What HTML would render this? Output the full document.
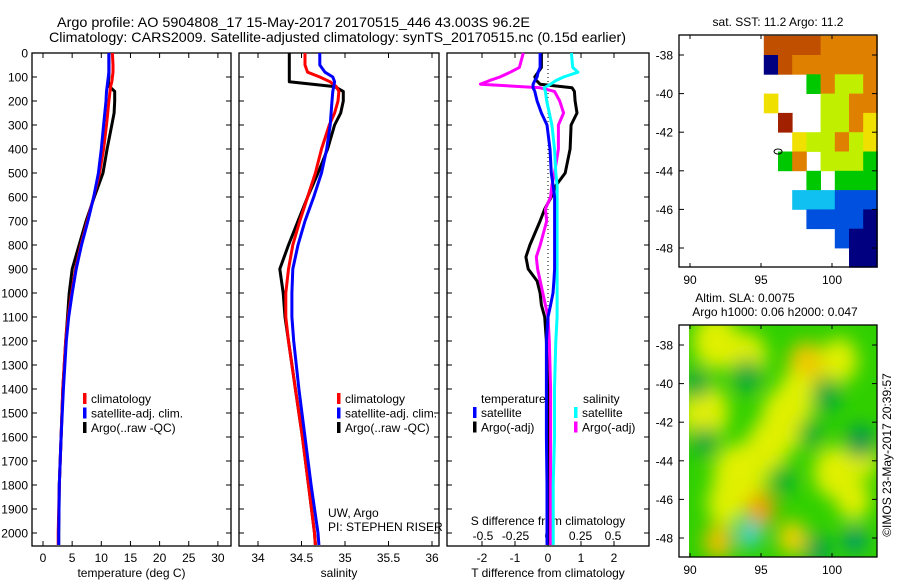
<!DOCTYPE html>
<html><head><meta charset="utf-8">
<style>
html,body{margin:0;padding:0;background:#fff;}
svg{display:block;font-family:"Liberation Sans",sans-serif;}
</style></head>
<body>
<svg id="fig" width="900" height="580" xmlns="http://www.w3.org/2000/svg">
<defs>
<filter id="blur" x="-50%" y="-50%" width="200%" height="200%"><feGaussianBlur stdDeviation="9"/></filter>
<clipPath id="slaclip"><rect x="689" y="325" width="188" height="232"/></clipPath>
</defs>
<text x="57" y="27" font-size="14" textLength="473" lengthAdjust="spacingAndGlyphs">Argo profile: AO 5904808_17 15-May-2017 20170515_446 43.003S 96.2E</text>
<text x="49" y="42" font-size="14" textLength="577" lengthAdjust="spacingAndGlyphs">Climatology: CARS2009. Satellite-adjusted climatology: synTS_20170515.nc (0.15d earlier)</text>
<g id="plots"></g>
</svg>
<script>
// ---------- data ----------
const depths = [0,50,80,100,120,140,160,200,250,300,400,500,600,700,800,900,1000,1100,1200,1400,1600,1800,2000,2050];
const tempClim = [11.9,12.0,12.0,11.9,11.8,11.6,11.5,11.3,11.1,10.9,10.4,9.7,8.7,7.6,6.5,5.6,4.9,4.3,3.9,3.4,3.1,2.8,2.6,2.6];
const tempSat  = [11.3,11.3,11.3,11.2,11.1,11.0,10.9,10.8,10.6,10.4,10.0,9.5,8.7,7.7,6.6,5.7,5.0,4.4,4.0,3.5,3.1,2.8,2.7,2.7];
const tempArgo = [11.3,11.3,11.3,11.3,11.2,11.4,12.3,12.3,12.2,11.8,11.0,10.3,8.8,7.4,6.2,5.0,4.5,4.2,3.9,3.4,3.1,2.8,2.7,2.7];
const salClim = [34.54,34.54,34.57,34.71,34.83,34.9,34.93,34.92,34.88,34.82,34.73,34.66,34.57,34.48,34.40,34.35,34.32,34.32,34.35,34.43,34.51,34.58,34.65,34.66];
const salSat  = [34.71,34.71,34.77,34.86,34.88,34.87,34.86,34.85,34.84,34.83,34.79,34.73,34.64,34.54,34.46,34.40,34.39,34.39,34.41,34.47,34.54,34.61,34.69,34.70];
const salArgo = [34.36,34.36,34.36,34.36,34.36,34.88,34.98,34.98,34.95,34.88,34.80,34.69,34.57,34.46,34.35,34.25,34.29,34.31,34.35,34.43,34.51,34.58,34.65,34.66];
const diffDepths = [0,60,80,100,115,130,145,160,200,250,300,400,500,550,600,650,700,800,850,900,950,1000,1050,1100,1200,1400,1600,1800,2050];
const tDiffSat  = [-0.24,-0.24,-0.3,-0.33,-0.4,-0.45,-0.45,-0.4,-0.33,-0.2,-0.03,0.06,0.1,0.15,0.2,0.2,0.2,0.2,0.2,0.2,0.18,0.15,0.08,0.0,-0.05,-0.05,-0.05,-0.03,-0.03];
const tDiffArgo = [-0.2,-0.2,-0.3,-0.4,-0.35,-0.24,0.73,0.8,0.82,0.88,0.7,0.67,0.52,0.25,0.1,-0.1,-0.24,-0.55,-0.67,-0.6,-0.33,-0.24,-0.2,-0.1,-0.05,0.0,0.0,0.0,0.0];
const sDiffSat  = [0.18,0.19,0.23,0.12,0.06,0.02,-0.03,-0.02,-0.01,0.01,0.03,0.05,0.06,0.07,0.07,0.07,0.07,0.07,0.07,0.07,0.07,0.07,0.07,0.07,0.06,0.05,0.05,0.04,0.04];
const sDiffArgo = [-0.19,-0.22,-0.29,-0.37,-0.45,-0.52,-0.06,0.05,0.09,0.12,0.08,0.08,0.05,0.03,0.02,-0.02,-0.01,-0.06,-0.09,-0.08,-0.06,-0.04,-0.02,0.0,0.01,0.02,0.02,0.02,0.02];
const depthTicks = [0,100,200,300,400,500,600,700,800,900,1000,1100,1200,1300,1400,1500,1600,1700,1800,1900,2000];
const tempTicks = [0,5,10,15,20,25,30];
const salTicks = [34,34.5,35,35.5,36];
const tdTicks = [-2,-1,0,1,2];
const sdTicks = [-0.5,-0.25,0,0.25,0.5];
const latTicks = [-38,-40,-42,-44,-46,-48];
const lonTicks = [90,95,100];
// SST grid: rows lat -37..-49 (1 deg), cols lon 89.2.. (1 deg)
const sstRows = ["......rrrroooo","......nroooooo",".........gollo","......y...lloo",".......R..lloy","........ylloly",".......go.lllg",".........g.ggg","........cccbbb",".........bbbbn","...........bnn","............nn"];
const sstColors = {n:"#000080",b:"#0050e0",c:"#10c0f0",g:"#00c800",l:"#c0f000",y:"#f0e000",o:"#e08000",r:"#c05000",R:"#a02000"};
// SLA blobs: lon, lat, radius(deg), colour
const slaLon = [91.8,94,98.2,100.5,91,96.8,93.5,95,97.2,92,100.2,102.3,95.5,97.5,92.5,101.5,90.5,94,99.6,102,91,94.2,99,101.6,96.5,98.5];
const slaLat = [-37.8,-38.6,-39,-38.8,-41.5,-41.8,-44.8,-46.5,-48,-48.2,-44.6,-44,-43.2,-40.5,-46.2,-46,-40,-39.6,-40.6,-43,-43,-47.8,-48.6,-48.1,-45,-42.6];
const slaR   = [1.6,1.4,1.3,1.3,1.7,1.8,1.9,1.0,1.0,1.0,1.5,1.0,1.5,1.3,1.3,1.2,0.9,1.0,1.0,1.0,0.9,0.8,0.9,0.8,0.9,0.9];
const slaCol = ["#e0f000","#e0f000","#f0c800","#e0f000","#e0f000","#e0f000","#e0f000","#f0a000","#f0d000","#f0c000","#e0f000","#e0f000","#e0f000","#e0f000","#e0f000","#e0f000","#00a840","#00a840","#00a840","#009850","#00a840","#40d0e0","#00a050","#009870","#00b030","#00b030"];

// ---------- helpers ----------
const NS="http://www.w3.org/2000/svg";
const G=document.getElementById('plots');
function mk(tag,attrs,parent){const e=document.createElementNS(NS,tag);for(const k in attrs)e.setAttribute(k,attrs[k]);(parent||G).appendChild(e);return e;}
function txt(s,x,y,size,anchor,parent){const t=mk('text',{x:x,y:y,'font-size':size,'text-anchor':anchor||'start'},parent);t.textContent=s;return t;}
const yD=d=>53+d*0.24;
const BOT=546;

function panel(name,x0,x1,xs,ticks,labelFmt,xlabel){
  const g=mk('g',{});
  
  
  const fr=mk('rect',{x:x0,y:53,width:x1-x0,height:BOT-53,fill:'none',stroke:'#000','stroke-width':1.3},g);
  
  
  ticks.forEach(v=>{const x=xs(v);
    mk('line',{x1:x,x2:x,y1:53,y2:58,stroke:'#000'},g);
    mk('line',{x1:x,x2:x,y1:BOT,y2:BOT-5,stroke:'#000'},g);
    if(labelFmt){const t=txt(labelFmt(v),x,562,12,'middle',g);
      
      }
  });
  depthTicks.forEach(d=>{mk('line',{x1:x0,x2:x0+5,y1:yD(d),y2:yD(d),stroke:'#000'},g);mk('line',{x1:x1,x2:x1-5,y1:yD(d),y2:yD(d),stroke:'#000'},g);});
  if(xlabel){const t=txt(xlabel,(x0+x1)/2,577,12,'middle',g);
    
    }
  return g;
}
function line(g,name,xs,vals,dep,color,w){
  const pts=vals.map((v,i)=>xs(v).toFixed(1)+','+yD(dep[i]).toFixed(1)).join(' ');
  const p=mk('polyline',{points:pts,fill:'none',stroke:color,'stroke-width':w||3,'stroke-linejoin':'round'},g);
  
  
}
function legend(g,x,y,items,prefix){
  items.forEach((it,i)=>{
    const r=mk('rect',{x:x,y:y+i*14.5-10,width:3.5,height:11,fill:it[1]},g);
    
    
    const t=txt(it[0],x+8,y+i*14.5,12,'start',g);
    
    
  });
}

// depth labels
depthTicks.forEach(d=>{const t=txt(String(d),28,yD(d)+4.5,12,'end');
  
  });

// panel 1 temperature
const xT=v=>43+v*5.83;
const g1=panel('temperature-panel',32,231,xT,tempTicks,v=>String(v),'temperature (deg C)');
line(g1,'temperature-argo-line',xT,tempArgo,depths,'#000');
line(g1,'temperature-climatology-line',xT,tempClim,depths,'#f00');
line(g1,'temperature-satellite-line',xT,tempSat,depths,'#00f');
legend(g1,83,403,[['climatology','#f00'],['satellite-adj. clim.','#00f'],['Argo(..raw -QC)','#000']],'temperature');

// panel 2 salinity
const xS=v=>258+(v-34)*87;
const g2=panel('salinity-panel',239,439,xS,salTicks,v=>String(v),'salinity');
line(g2,'salinity-argo-line',xS,salArgo,depths,'#000');
line(g2,'salinity-climatology-line',xS,salClim,depths,'#f00');
line(g2,'salinity-satellite-line',xS,salSat,depths,'#00f');
legend(g2,337,403,[['climatology','#f00'],['satellite-adj. clim.','#00f'],['Argo(..raw -QC)','#000']],'salinity');
let t=txt('UW, Argo',328,517,12,'start',g2);
t=txt('PI: STEPHEN RISER',328,531,12,'start',g2);

// panel 3 differences
const xTD=v=>548+v*33;
const xSD=v=>548+v*130;
const g3=panel('difference-panel',447,649,xTD,tdTicks,null,'T difference from climatology');
tdTicks.forEach(v=>{const tt=txt(String(v),xTD(v),562,12,'middle',g3);});
sdTicks.forEach(v=>{const tt=txt(String(v),xSD(v),540,12,'middle',g3);});
t=txt('S difference from climatology',548,525,12,'middle',g3);
const zl=mk('line',{x1:xTD(0),x2:xTD(0),y1:53,y2:BOT,stroke:'#000','stroke-dasharray':'1,3'},g3);


line(g3,'t-diff-argo-line',xTD,tDiffArgo,diffDepths,'#000');
line(g3,'s-diff-argo-line',xSD,sDiffArgo,diffDepths,'#f0f');
line(g3,'s-diff-satellite-line',xSD,sDiffSat,diffDepths,'#0ff');
line(g3,'t-diff-satellite-line',xTD,tDiffSat,diffDepths,'#00f');
t=txt('temperature',481,403,12,'start',g3);
t=txt('salinity',583,403,12,'start',g3);
legend(g3,473,417,[['satellite','#00f'],['Argo(-adj)','#000']],'t-diff');
legend(g3,574,417,[['satellite','#0ff'],['Argo(-adj)','#f0f']],'s-diff');

// ---------- maps ----------
function mapAxes(name){
  const g=mk('g',{});
  
  
  return g;
}
const xLon=v=>690+(v-90)*14.2;
// SST map
const yLat1=v=>55+(-38-v)*19.3;
const gm1=mapAxes('sst-map');
sstRows.forEach((row,r)=>{[...row].forEach((c,ci)=>{ if(c==='.')return;
  const x0=xLon(89.2+ci), la=-37-r;
  const cell=mk('rect',{x:x0.toFixed(1),y:yLat1(la).toFixed(1),width:14.6,height:19.7,fill:sstColors[c]},gm1);
  
  
});});
mk('ellipse',{cx:xLon(96.2),cy:yLat1(-43.0),rx:4,ry:2.5,fill:'none',stroke:'#000','stroke-width':1},gm1);
function mapFrame(g,y0,y1,yLat,prefix){
  const fr=mk('rect',{x:679,y:y0,width:198,height:y1-y0,fill:'none',stroke:'#000','stroke-width':1.3},g);
  
  
  latTicks.forEach(v=>{const y=yLat(v);mk('line',{x1:679,x2:684,y1:y,y2:y,stroke:'#000'},g);mk('line',{x1:877,x2:872,y1:y,y2:y,stroke:'#000'},g);
    const tt=txt(String(v),673,y+4.5,12,'end',g);});
  lonTicks.forEach(v=>{const x=xLon(v);mk('line',{x1:x,x2:x,y1:y0,y2:y0+4,stroke:'#000'},g);mk('line',{x1:x,x2:x,y1:y1,y2:y1-4,stroke:'#000'},g);
    const tt=txt(String(v),x,y1+17,12,'middle',g);});
}
mapFrame(gm1,35,267,yLat1,'sst-map');
t=txt('sat. SST: 11.2 Argo: 11.2',778,26,12,'middle',gm1);

// SLA map
const yLat2=v=>345+(-38-v)*19.3;
const gm2=mapAxes('sla-map');
const cg=mk('g',{'clip-path':'url(#slaclip)'},gm2);
const bg=mk('rect',{x:689,y:325,width:188,height:232,fill:'#30d000'},cg);


const bl=mk('g',{filter:'url(#blur)'},cg);
slaLon.forEach((lo,i)=>{const e=mk('ellipse',{cx:xLon(lo),cy:yLat2(slaLat[i]),rx:slaR[i]*14.2,ry:slaR[i]*19.3*0.9,fill:slaCol[i]},bl);
  
  });
mapFrame(gm2,325,557,yLat2,'sla-map');
t=txt('Altim. SLA: 0.0075',745,302,12,'middle',gm2);
t=txt('Argo h1000: 0.06 h2000: 0.047',775,316,12,'middle',gm2);
t=txt('©IMOS 23-May-2017 20:39:57',0,0,12,'middle');
t.setAttribute('transform','translate(891,455) rotate(-90)');


</script>
</body></html>
